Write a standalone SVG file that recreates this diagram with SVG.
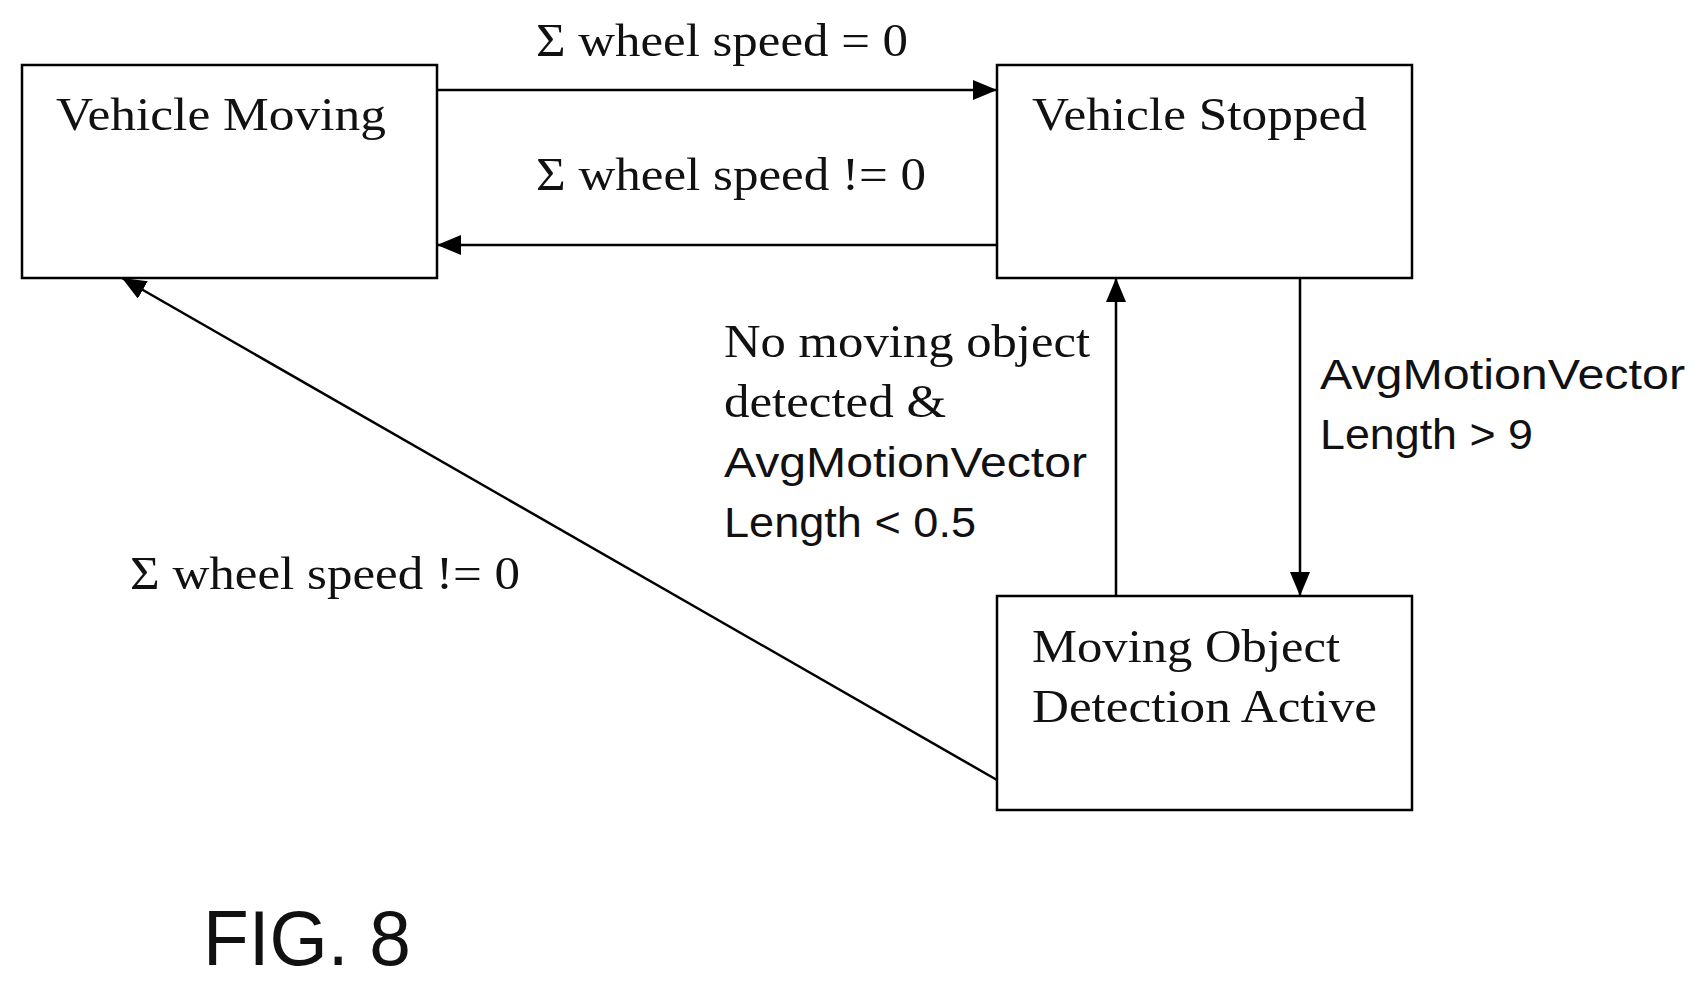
<svg xmlns="http://www.w3.org/2000/svg" width="1704" height="987" viewBox="0 0 1704 987">
<defs>
<style>
.box{fill:none;stroke:#000;stroke-width:2.5}
.ln{stroke:#000;stroke-width:2.5;fill:none}
.s{font-family:"Liberation Serif","Times New Roman",serif;font-size:47px;fill:#111}
.c{font-family:"Liberation Sans",Arial,sans-serif;font-size:42px;fill:#111}
</style>
<marker id="a" viewBox="0 0 24 20" refX="24" refY="10" markerWidth="24" markerHeight="20" markerUnits="userSpaceOnUse" orient="auto"><path d="M0,0 L24,10 L0,20 Z" fill="#000"/></marker>
</defs>
<rect width="1704" height="987" fill="#fff"/>
<g id="vehicle-moving"><rect class="box" x="22" y="65" width="415" height="213"/><text class="s" x="56" y="130" textLength="330" lengthAdjust="spacingAndGlyphs">Vehicle Moving</text></g>
<g id="vehicle-stopped"><rect class="box" x="997" y="65" width="415" height="213"/><text class="s" x="1032" y="130" textLength="335" lengthAdjust="spacingAndGlyphs">Vehicle Stopped</text></g>
<g id="mod-active"><rect class="box" x="997" y="596" width="415" height="214"/><text class="s" x="1032" y="662" textLength="308" lengthAdjust="spacingAndGlyphs">Moving Object</text><text class="s" x="1032" y="722" textLength="345" lengthAdjust="spacingAndGlyphs">Detection Active</text></g>
<g id="connectors">
<line class="ln" x1="437" y1="90" x2="997" y2="90" marker-end="url(#a)"/>
<line class="ln" x1="997" y1="245" x2="437" y2="245" marker-end="url(#a)"/>
<line class="ln" x1="1116" y1="596" x2="1116" y2="278" marker-end="url(#a)"/>
<line class="ln" x1="1300" y1="278" x2="1300" y2="596" marker-end="url(#a)"/>
<line class="ln" x1="997" y1="780" x2="122" y2="278" marker-end="url(#a)"/>
</g>
<g id="labels">
<text class="s" x="536" y="56" textLength="372" lengthAdjust="spacingAndGlyphs">Σ wheel speed = 0</text>
<text class="s" x="536" y="190" textLength="390" lengthAdjust="spacingAndGlyphs">Σ wheel speed != 0</text>
<text class="s" x="130" y="589" textLength="390" lengthAdjust="spacingAndGlyphs">Σ wheel speed != 0</text>
<text class="s" x="724" y="357" textLength="366" lengthAdjust="spacingAndGlyphs">No moving object</text>
<text class="s" x="724" y="417" textLength="222" lengthAdjust="spacingAndGlyphs">detected &amp;</text>
<text class="c" x="724" y="477" textLength="363" lengthAdjust="spacingAndGlyphs">AvgMotionVector</text>
<text class="c" x="724" y="537" textLength="252" lengthAdjust="spacingAndGlyphs">Length &lt; 0.5</text>
<text class="c" x="1320" y="389" textLength="365" lengthAdjust="spacingAndGlyphs">AvgMotionVector</text>
<text class="c" x="1320" y="449" textLength="213" lengthAdjust="spacingAndGlyphs">Length &gt; 9</text>
<text style="font-family:'Liberation Sans',Arial,sans-serif;font-size:78px;fill:#111" x="203" y="965" textLength="208" lengthAdjust="spacingAndGlyphs">FIG. 8</text>
</g>
</svg>
